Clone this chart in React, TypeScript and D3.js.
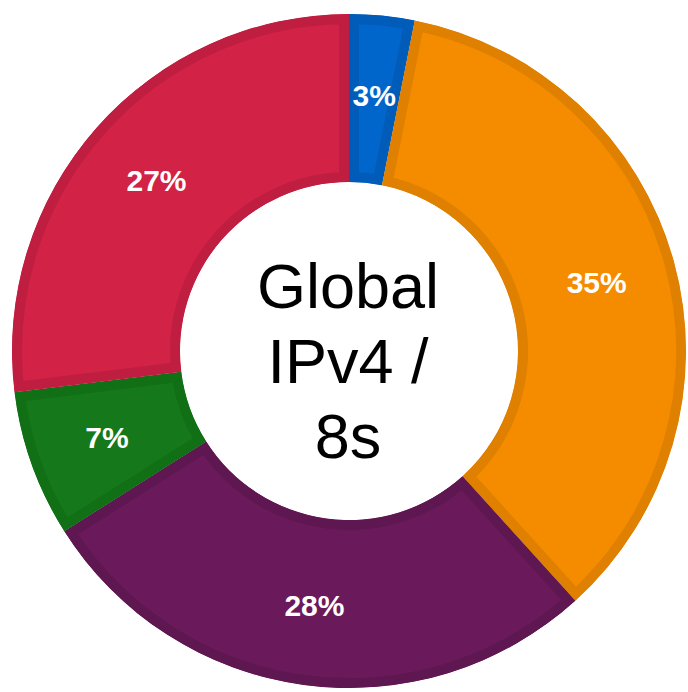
import React from "react";
import * as d3 from "d3";

// /8 blocks out of 256, clockwise from 12 o'clock
const slices = ["blue", "orange", "purple", "green", "red"];
const blocks = [8, 90, 71, 18, 69];
const fills = ["#0066cc", "#f58c00", "#6a1a5a", "#15781a", "#d22245"];
const edges = ["#005cb8", "#e08000", "#5f1751", "#117015", "#c01e40"];
const centerLines = ["Global", "IPv4 /", "8s"];

const width = 688;
const height = 692;
const cx = 349;
const cy = 351;
const outerR = 337;
const innerR = 169;
const edgeW = 10;

const App = () => {
  const total = d3.sum(blocks);
  const pie = d3
    .pie<number>()
    .sort(null)
    .value((d) => d);
  const arcs = pie(blocks);
  const arc = d3.arc<d3.PieArcDatum<number>>().innerRadius(innerR).outerRadius(outerR);
  const labelArc = d3
    .arc<d3.PieArcDatum<number>>()
    .innerRadius(innerR + 4)
    .outerRadius(outerR + 4);

  return (
    <svg
      width={width}
      height={height}
      style={{ position: "absolute", left: 0, top: 0 }}
      fontFamily="'Liberation Sans', Arial, sans-serif"
    >
      <defs>
        {arcs.map((a, i) => (
          <clipPath id={`clip-${slices[i]}`} key={slices[i]}>
            <path d={arc(a) || ""} />
          </clipPath>
        ))}
      </defs>
      <g transform={`translate(${cx},${cy})`}>
        {arcs.map((a, i) => (
          <path
            key={slices[i]}
            d={arc(a) || ""}
            fill={fills[i]}
            stroke={edges[i]}
            strokeWidth={edgeW * 2}
            strokeLinejoin="miter"
            clipPath={`url(#clip-${slices[i]})`}
          />
        ))}
        {arcs.map((a, i) => {
          const [x, y] = labelArc.centroid(a);
          return (
            <text
              key={slices[i]}
              x={x}
              y={y}
              textAnchor="middle"
              dominantBaseline="central"
              fill="#fff"
              fontWeight="bold"
              fontSize={30}
            >
              {Math.round((blocks[i] / total) * 100)}%
            </text>
          );
        })}
        {centerLines.map((t, i) => (
          <text
            key={t}
            x={-1}
            y={(i - 1) * 75 + 32}
            textAnchor="middle"
            fill="#000"
            fontSize={63}
          >
            {t}
          </text>
        ))}
      </g>
    </svg>
  );
};

export default App;
